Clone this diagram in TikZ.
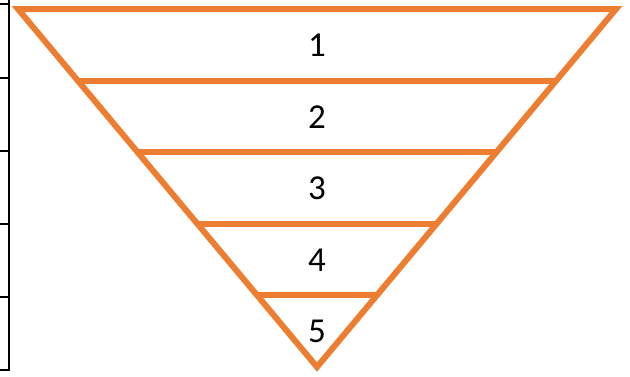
\documentclass[tikz,border=0pt]{standalone}
\usepackage{fontspec}
\setmainfont{Carlito}
\usetikzlibrary{calc}
\definecolor{funnel}{HTML}{ED7D31}
\begin{document}
\begin{tikzpicture}[x=1pt,y=-1pt,
  tri/.style={draw=funnel,line width=6pt,line join=miter},
  band/.style={draw=funnel,line width=6pt},
  axis/.style={draw=black,line width=2pt},
  lbl/.style={font=\fontsize{35}{40}\selectfont,inner sep=0pt}]
\useasboundingbox (0,0) rectangle (630,376);
\coordinate (A) at (18,9);
\coordinate (B) at (616,9);
\coordinate (C) at (317,367);
\draw[tri] (A) -- (B) -- (C) -- cycle;
\foreach \t in {0.2,0.4,0.6,0.8}{
  \draw[band] ($(A)!\t!(C)$) -- ($(B)!\t!(C)$);
}
\node[lbl] (l1) at (317,45) {1};
\node[lbl] (l2) at (317,117) {2};
\node[lbl] (l3) at (317,188) {3};
\node[lbl] (l4) at (317,260) {4};
\node[lbl] (l5) at (317,331) {5};
\coordinate (top) at (9,0);
\coordinate (bot) at (9,371);
\draw[axis] (top) -- (bot);
\foreach \y in {4,78,151,224,297,370}{
  \draw[axis] (0,\y) -- (10,\y);
}
\end{tikzpicture}
\end{document}
